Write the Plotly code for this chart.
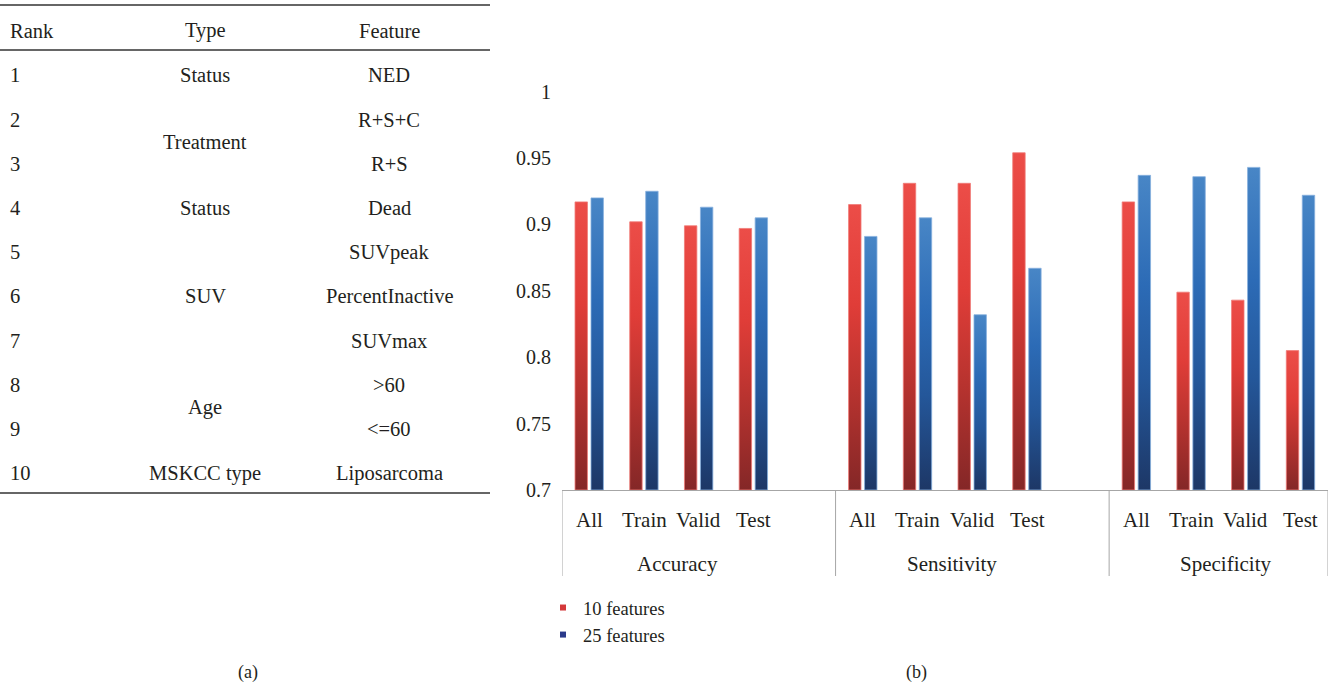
import plotly.graph_objects as go

# ---------------- data ----------------
# (a) ranked feature table
ranks = ["1", "2", "3", "4", "5", "6", "7", "8", "9", "10"]
features = ["NED", "R+S+C", "R+S", "Dead", "SUVpeak", "PercentInactive",
            "SUVmax", ">60", "<=60", "Liposarcoma"]
# merged "Type" cells: (label, first row, last row), rows counted from 1
type_spans = [("Status", 1, 1), ("Treatment", 2, 3), ("Status", 4, 4),
              ("SUV", 5, 7), ("Age", 8, 9), ("MSKCC type", 10, 10)]
table_header = ["Rank", "Type", "Feature"]

# (b) model performance
metrics = ["Accuracy", "Sensitivity", "Specificity"]
subsets = ["All", "Train", "Valid", "Test"]
ten_features = [0.917, 0.902, 0.899, 0.897,
                0.915, 0.931, 0.931, 0.954,
                0.917, 0.849, 0.843, 0.805]
twentyfive_features = [0.920, 0.925, 0.913, 0.905,
                       0.891, 0.905, 0.832, 0.867,
                       0.937, 0.936, 0.943, 0.922]
y_ticks = [0.7, 0.75, 0.8, 0.85, 0.9, 0.95, 1.0]
y_ticktext = ["0.7", "0.75", "0.8", "0.85", "0.9", "0.95", "1"]

# ---------------- styling ----------------
W, H = 1330, 686
FONT = "Liberation Serif"
TXT = "#231f20"
BASE = 0.7
TABLE_FS = 20.5
CHART_FS = 21

def fx(p):  # pixel x -> paper
    return p / W

def fy(p):  # pixel y (from top) -> paper
    return 1 - p / H

series = [
    dict(name="10 features", values=ten_features, lo=-0.262, hi=-0.035,
         scale=[[0, "#842727"], [0.35, "#b8332f"], [0.65, "#e03d38"], [1, "#ec4d48"]],
         edge="#f07a76", legend="#d4393a"),
    dict(name="25 features", values=twentyfive_features, lo=0.03, hi=0.257,
         scale=[[0, "#1d3766"], [0.35, "#24579a"], [0.65, "#2c6bb6"], [1, "#4886c6"]],
         edge="#86b0de", legend="#2b3a8a"),
]

# slot index of each bar: one empty slot separates the metric groups
n_sub = len(subsets)
step = n_sub + 1
slots = [g * step + s for g in range(len(metrics)) for s in range(n_sub)]

fig = go.Figure()

for ser in series:
    for pos, v in zip(slots, ser["values"]):
        x0, x1 = pos + ser["lo"], pos + ser["hi"]
        fig.add_trace(go.Scatter(
            x=[x0, x1, x1, x0, x0], y=[BASE, BASE, v, v, BASE],
            mode="lines", fill="toself",
            line=dict(color=ser["edge"], width=0.8),
            fillcolor=ser["legend"],
            fillgradient=dict(type="vertical", colorscale=ser["scale"],
                              start=BASE, stop=v),
            showlegend=False, hoverinfo="skip",
        ))
    fig.add_trace(go.Scatter(
        x=[None], y=[None], mode="markers", name=ser["name"],
        marker=dict(symbol="square", size=6, color=ser["legend"]),
    ))

ann = []
shapes = []

# subset labels and metric group labels beneath the axis
for g, m in enumerate(metrics):
    for s, sub in enumerate(subsets):
        ann.append(dict(x=g * step + s, y=fy(520), xref="x", yref="paper",
                        text=sub, showarrow=False, font=dict(size=CHART_FS, color=TXT),
                        xanchor="center", yanchor="middle"))
    ann.append(dict(x=g * step + (n_sub - 1) / 2 + 0.12, y=fy(564),
                    xref="x", yref="paper", text=m, showarrow=False,
                    font=dict(size=CHART_FS, color=TXT), xanchor="center", yanchor="middle"))

# group divider lines: left edge, between groups, right edge
dividers = [-0.5] + [g * step - 0.5 for g in range(1, len(metrics))] + [slots[-1] + 0.5]
for b in dividers:
    shapes.append(dict(type="line", xref="x", yref="paper", x0=b, x1=b,
                       y0=fy(490), y1=fy(576), line=dict(color="#a6a6a6", width=1)))

# ---------------- table (a) ----------------
row0, row_h = 75.5, 44.2
col_rank, col_type, col_feat = 8, 205, 389
for yy, wdt in [(5, 1.6), (50, 1.4), (493, 1.6)]:
    shapes.append(dict(type="line", xref="paper", yref="paper", x0=fx(0), x1=fx(490),
                       y0=fy(yy), y1=fy(yy), line=dict(color="#333333", width=wdt)))

def cell(x, y, text, anchor):
    ann.append(dict(x=fx(x), y=fy(y), xref="paper", yref="paper", text=text,
                    showarrow=False, xanchor=anchor, yanchor="middle",
                    font=dict(size=TABLE_FS, color=TXT)))

hdr_y = 31
cell(col_rank, hdr_y, table_header[0], "left")
cell(col_type, hdr_y, table_header[1], "center")
cell(col_feat, hdr_y, table_header[2], "center")

for i, (r, f) in enumerate(zip(ranks, features)):
    yy = row0 + i * row_h
    cell(col_rank, yy, r, "left")
    cell(col_feat, yy, f, "center")

for label, first, last in type_spans:
    cell(col_type, row0 + ((first + last) / 2 - 1) * row_h, label, "center")

# panel captions
for t, xx in [("(a)", 248), ("(b)", 916)]:
    ann.append(dict(x=fx(xx), y=fy(672), xref="paper", yref="paper", text=t,
                    showarrow=False, xanchor="center", yanchor="middle",
                    font=dict(size=18, color=TXT)))

fig.update_layout(
    width=W, height=H,
    margin=dict(l=0, r=0, t=0, b=0, pad=0, autoexpand=False),
    paper_bgcolor="white", plot_bgcolor="white",
    font=dict(family=FONT, color=TXT),
    xaxis=dict(domain=[fx(562), fx(1328)], range=[-0.5, slots[-1] + 0.5],
               showgrid=False, zeroline=False, showticklabels=False, ticks="",
               showline=True, linecolor="#a6a6a6", linewidth=1, fixedrange=True),
    yaxis=dict(domain=[fy(490), fy(91.7)], range=[BASE, 1.0],
               tickvals=y_ticks, ticktext=y_ticktext,
               showgrid=False, zeroline=False, showline=False,
               ticks="outside", ticklen=6, tickcolor="rgba(0,0,0,0)",
               tickfont=dict(size=20, color=TXT), fixedrange=True),
    legend=dict(x=fx(543), y=fy(589), xanchor="left", yanchor="top",
                orientation="v", font=dict(size=18.5, color=TXT),
                bgcolor="rgba(0,0,0,0)", tracegroupgap=0, itemwidth=30),
    annotations=ann, shapes=shapes,
    showlegend=True,
)

fig.write_html("out.html")
